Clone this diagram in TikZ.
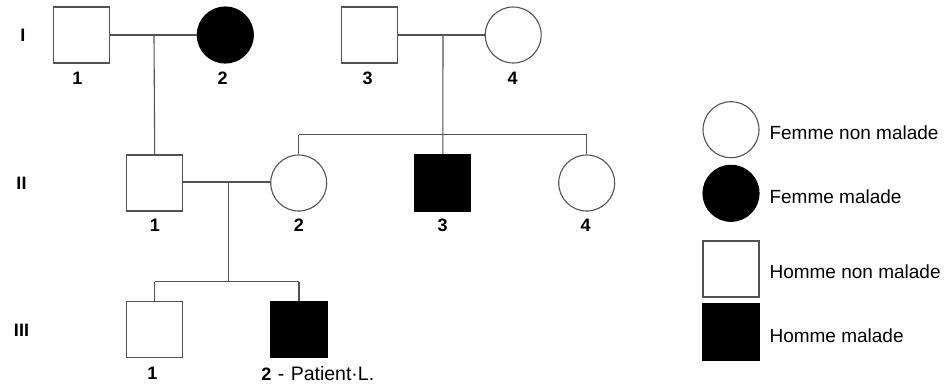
\documentclass[tikz,border=0pt]{standalone}
\usepackage{fontspec}
\setmainfont{Liberation Sans}
\begin{document}
\begin{tikzpicture}[x=1pt,y=-1pt,
  line width=1.1pt,
  lc/.style={draw=black!68},
  male/.style={rectangle,lc,fill=white,minimum size=56pt,inner sep=0pt},
  female/.style={circle,lc,fill=white,minimum size=56pt,inner sep=0pt},
  ill/.style={fill=black,draw=black},
  idlab/.style={font=\fontsize{18}{18}\selectfont\bfseries,inner sep=0pt},
  genlab/.style={font=\fontsize{18}{18}\selectfont\bfseries,inner sep=0pt},
  legtext/.style={font=\fontsize{19}{19}\selectfont,anchor=west,inner sep=0pt},
  link/.style={lc,line width=1.1pt}]
\useasboundingbox (0,0) rectangle (950,389);

% generation labels
\node[genlab] (gI)   at (23,35)  {I};
\node[genlab] (gII)  at (21.5,183) {II};
\node[genlab] (gIII) at (21.5,330) {III};

% generation I
\node[male]       (i1) at (81.5,35)  {};
\node[female,ill] (i2) at (225.3,35) {};
\node[male]       (i3) at (369.5,35) {};
\node[female]     (i4) at (513.2,35) {};

% generation II
\node[male]       (ii1) at (154.7,183) {};
\node[female]     (ii2) at (298.7,183) {};
\node[male,ill]   (ii3) at (442.8,183) {};
\node[female]     (ii4) at (586.7,183) {};

% generation III
\node[male]       (iii1) at (154.7,329.7) {};
\node[male,ill]   (iii2) at (299,329.7)   {};

% couple and sibship junctions
\coordinate (m1)  at (154,35);
\coordinate (m2)  at (443,35);
\coordinate (s2)  at (443,134.7);
\coordinate (s2l) at (298.7,134.7);
\coordinate (s2r) at (586.7,134.7);
\coordinate (m3)  at (228.5,182);
\coordinate (s3)  at (228.5,281.7);
\coordinate (s3l) at (154.7,281.7);
\coordinate (s3r) at (299,281.7);

% couples
\draw[link] (i1.east) -- (i2.west);
\draw[link] (i3.east) -- (i4.west);
\draw[link] (ii1.east |- m3) -- (ii2.west |- m3);

% descent lines
\draw[link] (m1) -- (ii1.north);
\draw[link] (m2) -- (ii3.north);
\draw[link] (s2l) -- (s2r);
\draw[link] (s2l) -- (ii2.north);
\draw[link] (s2r) -- (ii4.north);
\draw[link] (m3) -- (s3);
\draw[link] (s3l) -- (s3r);
\draw[link] (s3l) -- (iii1.north);
\draw[link] (s3r) -- (iii2.north);

% individual numbers
\node[idlab] (l-i1) at (77.5,78)  {1};
\node[idlab] (l-i2) at (222.7,78) {2};
\node[idlab] (l-i3) at (367.7,78) {3};
\node[idlab] (l-i4) at (512.7,78) {4};
\node[idlab] (l-ii1) at (155,225.5) {1};
\node[idlab] (l-ii2) at (299,225.5) {2};
\node[idlab] (l-ii3) at (442.7,225.5) {3};
\node[idlab] (l-ii4) at (585.7,225.5) {4};
\node[idlab] (l-iii1) at (152.3,373.3) {1};
\node[idlab,anchor=west] (l-iii2) at (260.7,373.3)
  {2\mdseries\fontsize{19.5}{19.5}\selectfont\hspace{6.5pt}-\hspace{6.5pt}Patient·L.};

% legend
\node[female]     (k1) at (731,129.7) {};
\node[female,ill] (k2) at (731,193.3) {};
\node[male]       (k3) at (731,269)   {};
\node[male,ill]   (k4) at (731,332)   {};
\node[legtext] (t1) at (769,132.7) {Femme non malade};
\node[legtext] (t2) at (769,196.7) {Femme malade};
\node[legtext] (t3) at (769,271.7) {Homme non malade};
\node[legtext] (t4) at (769,336)   {Homme malade};
\end{tikzpicture}
\end{document}
